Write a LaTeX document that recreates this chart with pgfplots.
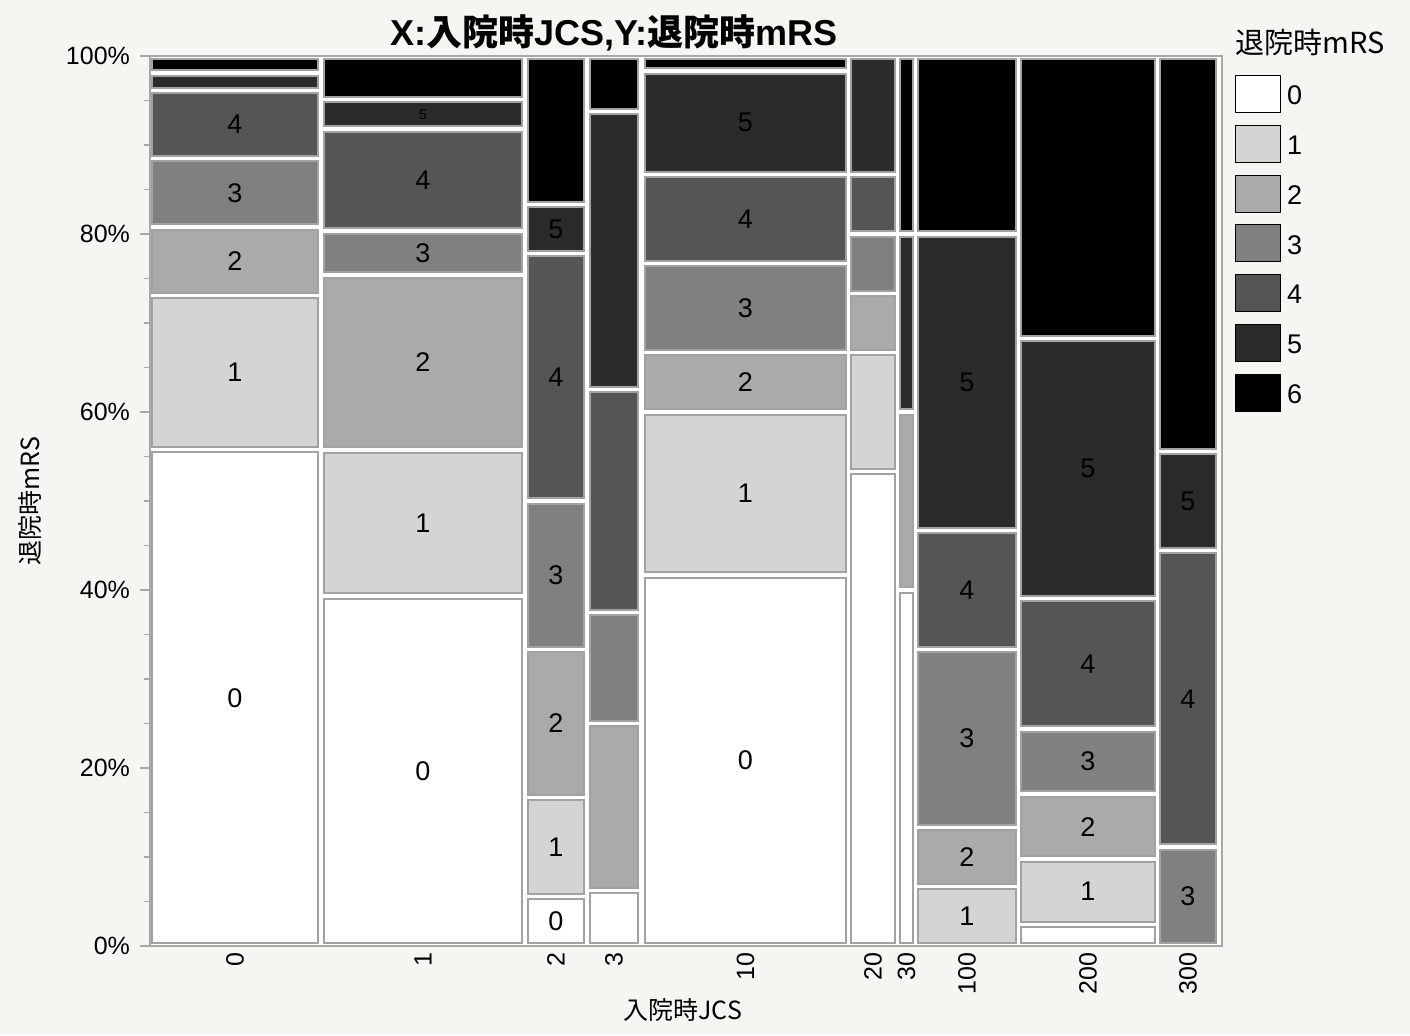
\documentclass[border=0pt]{standalone}
\usepackage{pgfplots}
\pgfplotsset{compat=1.18}
\usepackage{fontspec}
\setmainfont{Liberation Sans}
\newfontfamily\jp{Noto Sans CJK JP}

\definecolor{c0}{HTML}{FFFFFF}
\definecolor{c1}{HTML}{D4D4D4}
\definecolor{c2}{HTML}{AAAAAA}
\definecolor{c3}{HTML}{808080}
\definecolor{c4}{HTML}{555555}
\definecolor{c5}{HTML}{2B2B2B}
\definecolor{c6}{HTML}{000000}
\definecolor{bg}{HTML}{F5F5F1}
\definecolor{edge}{HTML}{A2A2A2}
\definecolor{framecol}{HTML}{A8A8A8}

\tikzset{lab/.style={font=\fontsize{13.5}{15}\selectfont, text=black, inner sep=0pt}}

% tile: x0, x1, cum. % low, cum. % high, colour, label
\newcommand\tile[6]{%
  \pgfmathsetmacro\ya{#3+0.3}\pgfmathsetmacro\yb{#4-0.3}%
  \pgfmathsetmacro\ym{(#3+#4)/2}\pgfmathsetmacro\xm{(#1+#2)/2}%
  \addplot[forget plot, fill=#5, draw=edge, line width=1pt]
    coordinates {(#1,\ya) (#2,\ya) (#2,\yb) (#1,\yb)} -- cycle;
  \edef\tmp{\noexpand\node[lab] at (axis cs:\xm,\ym) {\unexpanded{#6}};}\tmp
}

\begin{document}
\begin{tikzpicture}
\fill[bg] (0,0) rectangle (705pt,517.5pt);
\useasboundingbox (0,0) rectangle (705pt,517.5pt);
\begin{axis}[
  at={(75pt,44.5pt)}, anchor=south west,
  width=536pt, height=445pt, scale only axis,
  xmin=0, xmax=1072, ymin=0, ymax=100,
  axis background/.style={fill=white},
  axis line style={draw=framecol, line width=1.2pt},
  xtick={85,273,406,464,595.5,723,756.5,817,938,1038},
  xticklabels={0,1,2,3,10,20,30,100,200,300},
  xticklabel style={rotate=90, anchor=east},
  xticklabel shift=-5pt,
  major x tick style={draw=none},
  ytick={0,20,40,60,80,100},
  yticklabels={0\%,20\%,40\%,60\%,80\%,100\%},
  ytick pos=left,
  yticklabel shift=1.5pt,
  minor y tick num=3,
  y tick style={draw=framecol, line width=0.8pt},
  major tick length=5pt, minor tick length=3pt,
  tick align=outside,
  ticklabel style={font=\fontsize{12.5}{14}\selectfont},
  xlabel={\jp 入院時JCS},
  ylabel={\jp 退院時mRS},
  label style={font=\fontsize{12.5}{14}\selectfont},
  xlabel style={at={(axis description cs:0.497,-0.072)}, anchor=center},
  ylabel style={at={(axis description cs:-0.112,0.5)}, anchor=center},
  title={\bfseries X:{\jp 入院時}JCS,Y:{\jp 退院時}mRS},
  title style={at={(axis description cs:0.433,1.0124)}, anchor=base, yshift=-6.5pt, font=\fontsize{18}{20}\selectfont},
  legend image code/.code={\fill[#1] (0pt,-7.75pt) rectangle (22.5pt,10.75pt);},
  legend cell align=left,
  legend style={at={(axis description cs:1.012,0.979)}, anchor=north west,
    draw=none, fill=none, inner sep=0pt, row sep=6pt, column sep=3pt,
    font=\fontsize{13.5}{15}\selectfont, nodes={inner sep=0pt}},
  clip=false,
]
% JCS 0
\tile{2}{168}{0}{55.77}{c0}{0}
\tile{2}{168}{55.77}{73.08}{c1}{1}
\tile{2}{168}{73.08}{80.77}{c2}{2}
\tile{2}{168}{80.77}{88.46}{c3}{3}
\tile{2}{168}{88.46}{96.15}{c4}{4}
\tile{2}{168}{96.15}{98.08}{c5}{}
\tile{2}{168}{98.08}{100}{c6}{}
% JCS 1
\tile{174}{372}{0}{39.34}{c0}{0}
\tile{174}{372}{39.34}{55.74}{c1}{1}
\tile{174}{372}{55.74}{75.41}{c2}{2}
\tile{174}{372}{75.41}{80.33}{c3}{3}
\tile{174}{372}{80.33}{91.80}{c4}{4}
\tile{174}{372}{91.80}{95.08}{c5}{\fontsize{7}{8}\selectfont 5}
\tile{174}{372}{95.08}{100}{c6}{}
% JCS 2
\tile{378}{434}{0}{5.56}{c0}{0}
\tile{378}{434}{5.56}{16.67}{c1}{1}
\tile{378}{434}{16.67}{33.33}{c2}{2}
\tile{378}{434}{33.33}{50}{c3}{3}
\tile{378}{434}{50}{77.78}{c4}{4}
\tile{378}{434}{77.78}{83.33}{c5}{5}
\tile{378}{434}{83.33}{100}{c6}{}
% JCS 3
\tile{440}{488}{0}{6.25}{c0}{}
\tile{440}{488}{6.25}{25}{c2}{}
\tile{440}{488}{25}{37.5}{c3}{}
\tile{440}{488}{37.5}{62.5}{c4}{}
\tile{440}{488}{62.5}{93.75}{c5}{}
\tile{440}{488}{93.75}{100}{c6}{}
% JCS 10
\tile{495}{696}{0}{41.67}{c0}{0}
\tile{495}{696}{41.67}{60}{c1}{1}
\tile{495}{696}{60}{66.67}{c2}{2}
\tile{495}{696}{66.67}{76.67}{c3}{3}
\tile{495}{696}{76.67}{86.67}{c4}{4}
\tile{495}{696}{86.67}{98.33}{c5}{5}
\tile{495}{696}{98.33}{100}{c6}{}
% JCS 20
\tile{701}{745}{0}{53.33}{c0}{}
\tile{701}{745}{53.33}{66.67}{c1}{}
\tile{701}{745}{66.67}{73.33}{c2}{}
\tile{701}{745}{73.33}{80}{c3}{}
\tile{701}{745}{80}{86.67}{c4}{}
\tile{701}{745}{86.67}{100}{c5}{}
% JCS 30
\tile{750}{763}{0}{40}{c0}{}
\tile{750}{763}{40}{60}{c2}{}
\tile{750}{763}{60}{80}{c5}{}
\tile{750}{763}{80}{100}{c6}{}
% JCS 100
\tile{768}{866}{0}{6.67}{c1}{1}
\tile{768}{866}{6.67}{13.33}{c2}{2}
\tile{768}{866}{13.33}{33.33}{c3}{3}
\tile{768}{866}{33.33}{46.67}{c4}{4}
\tile{768}{866}{46.67}{80}{c5}{5}
\tile{768}{866}{80}{100}{c6}{}
% JCS 200
\tile{871}{1005}{0}{2.44}{c0}{}
\tile{871}{1005}{2.44}{9.76}{c1}{1}
\tile{871}{1005}{9.76}{17.07}{c2}{2}
\tile{871}{1005}{17.07}{24.39}{c3}{3}
\tile{871}{1005}{24.39}{39.02}{c4}{4}
\tile{871}{1005}{39.02}{68.29}{c5}{5}
\tile{871}{1005}{68.29}{100}{c6}{}
% JCS 300
\tile{1010}{1066}{0}{11.11}{c3}{3}
\tile{1010}{1066}{11.11}{44.44}{c4}{4}
\tile{1010}{1066}{44.44}{55.56}{c5}{5}
\tile{1010}{1066}{55.56}{100}{c6}{}
% legend
\addlegendimage{fill=c0}\addlegendentry{0}
\addlegendimage{fill=c1}\addlegendentry{1}
\addlegendimage{fill=c2}\addlegendentry{2}
\addlegendimage{fill=c3}\addlegendentry{3}
\addlegendimage{fill=c4}\addlegendentry{4}
\addlegendimage{fill=c5}\addlegendentry{5}
\addlegendimage{fill=c6}\addlegendentry{6}
\node[anchor=west, font=\fontsize{14.5}{16}\selectfont\jp, inner sep=0pt]
  at (axis description cs:1.012,1.0157) {退院時mRS};
\end{axis}
\end{tikzpicture}
\end{document}
